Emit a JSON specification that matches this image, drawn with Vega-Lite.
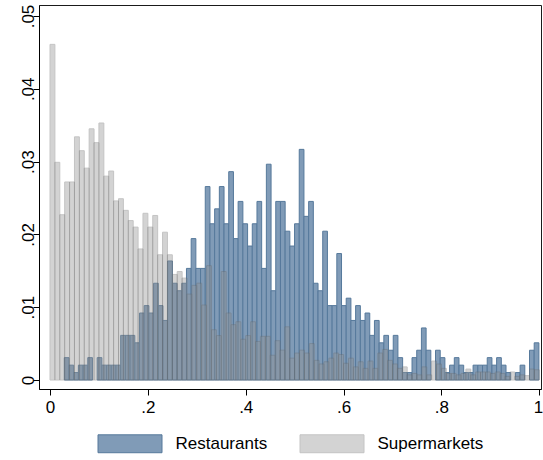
{
  "$schema": "https://vega.github.io/schema/vega-lite/v6.json",
  "width": 502,
  "height": 384,
  "autosize": {"type": "none"},
  "padding": {"left": 39, "top": 5, "right": 2, "bottom": 71},
  "background": "white",
  "config": {
    "font": "Liberation Sans",
    "view": {"stroke": "#1a1a1a", "strokeWidth": 1},
    "axis": {
      "grid": false,
      "title": null,
      "domainColor": "#000000",
      "domainWidth": 1,
      "tickColor": "#000000",
      "tickWidth": 1,
      "tickSize": 6,
      "labelColor": "#000000",
      "labelFont": "Liberation Sans",
      "labelFontSize": 17,
      "labelOverlap": false,
      "labelFlush": false
    }
  },
  "data": {
    "values": [
      {"s": "Restaurants", "lo": 0.0292, "hi": 0.0388, "f": 0.00307},
      {"s": "Restaurants", "lo": 0.0388, "hi": 0.0484, "f": 0.00204},
      {"s": "Restaurants", "lo": 0.0484, "hi": 0.0580, "f": 0.00102},
      {"s": "Restaurants", "lo": 0.0580, "hi": 0.0676, "f": 0.00204},
      {"s": "Restaurants", "lo": 0.0676, "hi": 0.0772, "f": 0.00204},
      {"s": "Restaurants", "lo": 0.0772, "hi": 0.0868, "f": 0.00307},
      {"s": "Restaurants", "lo": 0.0964, "hi": 0.1060, "f": 0.00307},
      {"s": "Restaurants", "lo": 0.1060, "hi": 0.1156, "f": 0.00204},
      {"s": "Restaurants", "lo": 0.1156, "hi": 0.1252, "f": 0.00204},
      {"s": "Restaurants", "lo": 0.1252, "hi": 0.1348, "f": 0.00204},
      {"s": "Restaurants", "lo": 0.1348, "hi": 0.1444, "f": 0.00204},
      {"s": "Restaurants", "lo": 0.1444, "hi": 0.1541, "f": 0.00613},
      {"s": "Restaurants", "lo": 0.1541, "hi": 0.1637, "f": 0.00613},
      {"s": "Restaurants", "lo": 0.1637, "hi": 0.1733, "f": 0.00613},
      {"s": "Restaurants", "lo": 0.1733, "hi": 0.1829, "f": 0.00511},
      {"s": "Restaurants", "lo": 0.1829, "hi": 0.1925, "f": 0.0092},
      {"s": "Restaurants", "lo": 0.1925, "hi": 0.2021, "f": 0.01022},
      {"s": "Restaurants", "lo": 0.2021, "hi": 0.2117, "f": 0.0092},
      {"s": "Restaurants", "lo": 0.2117, "hi": 0.2213, "f": 0.01329},
      {"s": "Restaurants", "lo": 0.2213, "hi": 0.2309, "f": 0.01022},
      {"s": "Restaurants", "lo": 0.2309, "hi": 0.2405, "f": 0.00818},
      {"s": "Restaurants", "lo": 0.2405, "hi": 0.2501, "f": 0.01635},
      {"s": "Restaurants", "lo": 0.2501, "hi": 0.2597, "f": 0.01329},
      {"s": "Restaurants", "lo": 0.2597, "hi": 0.2693, "f": 0.01226},
      {"s": "Restaurants", "lo": 0.2693, "hi": 0.2789, "f": 0.01329},
      {"s": "Restaurants", "lo": 0.2789, "hi": 0.2885, "f": 0.01533},
      {"s": "Restaurants", "lo": 0.2885, "hi": 0.2981, "f": 0.01942},
      {"s": "Restaurants", "lo": 0.2981, "hi": 0.3077, "f": 0.01533},
      {"s": "Restaurants", "lo": 0.3077, "hi": 0.3173, "f": 0.01533},
      {"s": "Restaurants", "lo": 0.3173, "hi": 0.3269, "f": 0.02657},
      {"s": "Restaurants", "lo": 0.3269, "hi": 0.3365, "f": 0.02146},
      {"s": "Restaurants", "lo": 0.3365, "hi": 0.3461, "f": 0.02351},
      {"s": "Restaurants", "lo": 0.3461, "hi": 0.3557, "f": 0.02657},
      {"s": "Restaurants", "lo": 0.3557, "hi": 0.3653, "f": 0.02146},
      {"s": "Restaurants", "lo": 0.3653, "hi": 0.3749, "f": 0.02862},
      {"s": "Restaurants", "lo": 0.3749, "hi": 0.3845, "f": 0.01942},
      {"s": "Restaurants", "lo": 0.3845, "hi": 0.3942, "f": 0.02453},
      {"s": "Restaurants", "lo": 0.3942, "hi": 0.4038, "f": 0.02146},
      {"s": "Restaurants", "lo": 0.4038, "hi": 0.4134, "f": 0.0184},
      {"s": "Restaurants", "lo": 0.4134, "hi": 0.4230, "f": 0.02146},
      {"s": "Restaurants", "lo": 0.4230, "hi": 0.4326, "f": 0.02453},
      {"s": "Restaurants", "lo": 0.4326, "hi": 0.4422, "f": 0.01533},
      {"s": "Restaurants", "lo": 0.4422, "hi": 0.4518, "f": 0.02964},
      {"s": "Restaurants", "lo": 0.4518, "hi": 0.4614, "f": 0.01226},
      {"s": "Restaurants", "lo": 0.4614, "hi": 0.4710, "f": 0.02453},
      {"s": "Restaurants", "lo": 0.4710, "hi": 0.4806, "f": 0.02453},
      {"s": "Restaurants", "lo": 0.4806, "hi": 0.4902, "f": 0.02044},
      {"s": "Restaurants", "lo": 0.4902, "hi": 0.4998, "f": 0.0184},
      {"s": "Restaurants", "lo": 0.4998, "hi": 0.5094, "f": 0.02146},
      {"s": "Restaurants", "lo": 0.5094, "hi": 0.5190, "f": 0.03168},
      {"s": "Restaurants", "lo": 0.5190, "hi": 0.5286, "f": 0.02248},
      {"s": "Restaurants", "lo": 0.5286, "hi": 0.5382, "f": 0.02453},
      {"s": "Restaurants", "lo": 0.5382, "hi": 0.5478, "f": 0.01329},
      {"s": "Restaurants", "lo": 0.5478, "hi": 0.5574, "f": 0.01226},
      {"s": "Restaurants", "lo": 0.5574, "hi": 0.5670, "f": 0.02044},
      {"s": "Restaurants", "lo": 0.5670, "hi": 0.5766, "f": 0.01022},
      {"s": "Restaurants", "lo": 0.5766, "hi": 0.5862, "f": 0.01022},
      {"s": "Restaurants", "lo": 0.5862, "hi": 0.5958, "f": 0.01737},
      {"s": "Restaurants", "lo": 0.5958, "hi": 0.6054, "f": 0.01022},
      {"s": "Restaurants", "lo": 0.6054, "hi": 0.6150, "f": 0.01124},
      {"s": "Restaurants", "lo": 0.6150, "hi": 0.6246, "f": 0.00818},
      {"s": "Restaurants", "lo": 0.6246, "hi": 0.6343, "f": 0.01022},
      {"s": "Restaurants", "lo": 0.6343, "hi": 0.6439, "f": 0.00818},
      {"s": "Restaurants", "lo": 0.6439, "hi": 0.6535, "f": 0.0092},
      {"s": "Restaurants", "lo": 0.6535, "hi": 0.6631, "f": 0.00613},
      {"s": "Restaurants", "lo": 0.6631, "hi": 0.6727, "f": 0.00818},
      {"s": "Restaurants", "lo": 0.6727, "hi": 0.6823, "f": 0.00511},
      {"s": "Restaurants", "lo": 0.6823, "hi": 0.6919, "f": 0.00613},
      {"s": "Restaurants", "lo": 0.6919, "hi": 0.7015, "f": 0.00409},
      {"s": "Restaurants", "lo": 0.7015, "hi": 0.7111, "f": 0.00613},
      {"s": "Restaurants", "lo": 0.7111, "hi": 0.7207, "f": 0.00307},
      {"s": "Restaurants", "lo": 0.7207, "hi": 0.7303, "f": 0.00102},
      {"s": "Restaurants", "lo": 0.7303, "hi": 0.7399, "f": 0.00102},
      {"s": "Restaurants", "lo": 0.7399, "hi": 0.7495, "f": 0.00307},
      {"s": "Restaurants", "lo": 0.7495, "hi": 0.7591, "f": 0.00409},
      {"s": "Restaurants", "lo": 0.7591, "hi": 0.7687, "f": 0.00715},
      {"s": "Restaurants", "lo": 0.7687, "hi": 0.7783, "f": 0.00409},
      {"s": "Restaurants", "lo": 0.7879, "hi": 0.7975, "f": 0.00409},
      {"s": "Restaurants", "lo": 0.7975, "hi": 0.8071, "f": 0.00307},
      {"s": "Restaurants", "lo": 0.8071, "hi": 0.8167, "f": 0.00102},
      {"s": "Restaurants", "lo": 0.8167, "hi": 0.8263, "f": 0.00204},
      {"s": "Restaurants", "lo": 0.8263, "hi": 0.8359, "f": 0.00307},
      {"s": "Restaurants", "lo": 0.8359, "hi": 0.8455, "f": 0.00204},
      {"s": "Restaurants", "lo": 0.8455, "hi": 0.8551, "f": 0.00102},
      {"s": "Restaurants", "lo": 0.8551, "hi": 0.8647, "f": 0.00102},
      {"s": "Restaurants", "lo": 0.8647, "hi": 0.8744, "f": 0.00204},
      {"s": "Restaurants", "lo": 0.8744, "hi": 0.8840, "f": 0.00204},
      {"s": "Restaurants", "lo": 0.8840, "hi": 0.8936, "f": 0.00204},
      {"s": "Restaurants", "lo": 0.8936, "hi": 0.9032, "f": 0.00307},
      {"s": "Restaurants", "lo": 0.9032, "hi": 0.9128, "f": 0.00204},
      {"s": "Restaurants", "lo": 0.9128, "hi": 0.9224, "f": 0.00307},
      {"s": "Restaurants", "lo": 0.9224, "hi": 0.9320, "f": 0.00204},
      {"s": "Restaurants", "lo": 0.9320, "hi": 0.9416, "f": 0.00102},
      {"s": "Restaurants", "lo": 0.9512, "hi": 0.9608, "f": 0.00102},
      {"s": "Restaurants", "lo": 0.9608, "hi": 0.9704, "f": 0.00204},
      {"s": "Restaurants", "lo": 0.9800, "hi": 0.9896, "f": 0.00409},
      {"s": "Restaurants", "lo": 0.9896, "hi": 0.9992, "f": 0.00511},

      {"s": "Supermarkets", "lo": 0.00, "hi": 0.01, "f": 0.0461},
      {"s": "Supermarkets", "lo": 0.01, "hi": 0.02, "f": 0.0299},
      {"s": "Supermarkets", "lo": 0.02, "hi": 0.03, "f": 0.0227},
      {"s": "Supermarkets", "lo": 0.03, "hi": 0.04, "f": 0.0272},
      {"s": "Supermarkets", "lo": 0.04, "hi": 0.05, "f": 0.0272},
      {"s": "Supermarkets", "lo": 0.05, "hi": 0.06, "f": 0.0334},
      {"s": "Supermarkets", "lo": 0.06, "hi": 0.07, "f": 0.0315},
      {"s": "Supermarkets", "lo": 0.07, "hi": 0.08, "f": 0.0291},
      {"s": "Supermarkets", "lo": 0.08, "hi": 0.09, "f": 0.0345},
      {"s": "Supermarkets", "lo": 0.09, "hi": 0.10, "f": 0.0326},
      {"s": "Supermarkets", "lo": 0.10, "hi": 0.11, "f": 0.0353},
      {"s": "Supermarkets", "lo": 0.11, "hi": 0.12, "f": 0.0280},
      {"s": "Supermarkets", "lo": 0.12, "hi": 0.13, "f": 0.0287},
      {"s": "Supermarkets", "lo": 0.13, "hi": 0.14, "f": 0.0246},
      {"s": "Supermarkets", "lo": 0.14, "hi": 0.15, "f": 0.0249},
      {"s": "Supermarkets", "lo": 0.15, "hi": 0.16, "f": 0.0233},
      {"s": "Supermarkets", "lo": 0.16, "hi": 0.17, "f": 0.0219},
      {"s": "Supermarkets", "lo": 0.17, "hi": 0.18, "f": 0.0210},
      {"s": "Supermarkets", "lo": 0.18, "hi": 0.19, "f": 0.0180},
      {"s": "Supermarkets", "lo": 0.19, "hi": 0.20, "f": 0.0229},
      {"s": "Supermarkets", "lo": 0.20, "hi": 0.21, "f": 0.0210},
      {"s": "Supermarkets", "lo": 0.21, "hi": 0.22, "f": 0.0226},
      {"s": "Supermarkets", "lo": 0.22, "hi": 0.23, "f": 0.0172},
      {"s": "Supermarkets", "lo": 0.23, "hi": 0.24, "f": 0.0203},
      {"s": "Supermarkets", "lo": 0.24, "hi": 0.25, "f": 0.0172},
      {"s": "Supermarkets", "lo": 0.25, "hi": 0.26, "f": 0.0145},
      {"s": "Supermarkets", "lo": 0.26, "hi": 0.27, "f": 0.0149},
      {"s": "Supermarkets", "lo": 0.27, "hi": 0.28, "f": 0.0140},
      {"s": "Supermarkets", "lo": 0.28, "hi": 0.29, "f": 0.0118},
      {"s": "Supermarkets", "lo": 0.29, "hi": 0.30, "f": 0.0130},
      {"s": "Supermarkets", "lo": 0.30, "hi": 0.31, "f": 0.0133},
      {"s": "Supermarkets", "lo": 0.31, "hi": 0.32, "f": 0.0103},
      {"s": "Supermarkets", "lo": 0.32, "hi": 0.33, "f": 0.0157},
      {"s": "Supermarkets", "lo": 0.33, "hi": 0.34, "f": 0.0069},
      {"s": "Supermarkets", "lo": 0.34, "hi": 0.35, "f": 0.0061},
      {"s": "Supermarkets", "lo": 0.35, "hi": 0.36, "f": 0.0149},
      {"s": "Supermarkets", "lo": 0.36, "hi": 0.37, "f": 0.0092},
      {"s": "Supermarkets", "lo": 0.37, "hi": 0.38, "f": 0.0076},
      {"s": "Supermarkets", "lo": 0.38, "hi": 0.39, "f": 0.0080},
      {"s": "Supermarkets", "lo": 0.39, "hi": 0.40, "f": 0.0056},
      {"s": "Supermarkets", "lo": 0.40, "hi": 0.41, "f": 0.0061},
      {"s": "Supermarkets", "lo": 0.41, "hi": 0.42, "f": 0.0080},
      {"s": "Supermarkets", "lo": 0.42, "hi": 0.43, "f": 0.0053},
      {"s": "Supermarkets", "lo": 0.43, "hi": 0.44, "f": 0.0060},
      {"s": "Supermarkets", "lo": 0.44, "hi": 0.45, "f": 0.0060},
      {"s": "Supermarkets", "lo": 0.45, "hi": 0.46, "f": 0.0034},
      {"s": "Supermarkets", "lo": 0.46, "hi": 0.47, "f": 0.0054},
      {"s": "Supermarkets", "lo": 0.47, "hi": 0.48, "f": 0.0041},
      {"s": "Supermarkets", "lo": 0.48, "hi": 0.49, "f": 0.0073},
      {"s": "Supermarkets", "lo": 0.49, "hi": 0.50, "f": 0.0030},
      {"s": "Supermarkets", "lo": 0.50, "hi": 0.51, "f": 0.0037},
      {"s": "Supermarkets", "lo": 0.51, "hi": 0.52, "f": 0.0041},
      {"s": "Supermarkets", "lo": 0.52, "hi": 0.53, "f": 0.0037},
      {"s": "Supermarkets", "lo": 0.53, "hi": 0.54, "f": 0.0050},
      {"s": "Supermarkets", "lo": 0.54, "hi": 0.55, "f": 0.0027},
      {"s": "Supermarkets", "lo": 0.55, "hi": 0.56, "f": 0.0022},
      {"s": "Supermarkets", "lo": 0.56, "hi": 0.57, "f": 0.0025},
      {"s": "Supermarkets", "lo": 0.57, "hi": 0.58, "f": 0.0030},
      {"s": "Supermarkets", "lo": 0.58, "hi": 0.59, "f": 0.0037},
      {"s": "Supermarkets", "lo": 0.59, "hi": 0.60, "f": 0.0035},
      {"s": "Supermarkets", "lo": 0.60, "hi": 0.61, "f": 0.0023},
      {"s": "Supermarkets", "lo": 0.61, "hi": 0.62, "f": 0.0030},
      {"s": "Supermarkets", "lo": 0.62, "hi": 0.63, "f": 0.0018},
      {"s": "Supermarkets", "lo": 0.63, "hi": 0.64, "f": 0.0025},
      {"s": "Supermarkets", "lo": 0.64, "hi": 0.65, "f": 0.0016},
      {"s": "Supermarkets", "lo": 0.65, "hi": 0.66, "f": 0.0026},
      {"s": "Supermarkets", "lo": 0.66, "hi": 0.67, "f": 0.0016},
      {"s": "Supermarkets", "lo": 0.67, "hi": 0.68, "f": 0.0037},
      {"s": "Supermarkets", "lo": 0.68, "hi": 0.69, "f": 0.0042},
      {"s": "Supermarkets", "lo": 0.69, "hi": 0.70, "f": 0.0027},
      {"s": "Supermarkets", "lo": 0.70, "hi": 0.71, "f": 0.0022},
      {"s": "Supermarkets", "lo": 0.71, "hi": 0.72, "f": 0.0016},
      {"s": "Supermarkets", "lo": 0.72, "hi": 0.73, "f": 0.0018},
      {"s": "Supermarkets", "lo": 0.73, "hi": 0.74, "f": 0.0007},
      {"s": "Supermarkets", "lo": 0.74, "hi": 0.75, "f": 0.0009},
      {"s": "Supermarkets", "lo": 0.75, "hi": 0.76, "f": 0.0007},
      {"s": "Supermarkets", "lo": 0.76, "hi": 0.77, "f": 0.0018},
      {"s": "Supermarkets", "lo": 0.77, "hi": 0.78, "f": 0.0007},
      {"s": "Supermarkets", "lo": 0.78, "hi": 0.79, "f": 0.0026},
      {"s": "Supermarkets", "lo": 0.79, "hi": 0.80, "f": 0.0022},
      {"s": "Supermarkets", "lo": 0.80, "hi": 0.81, "f": 0.0016},
      {"s": "Supermarkets", "lo": 0.81, "hi": 0.82, "f": 0.0009},
      {"s": "Supermarkets", "lo": 0.82, "hi": 0.83, "f": 0.0009},
      {"s": "Supermarkets", "lo": 0.83, "hi": 0.84, "f": 0.0007},
      {"s": "Supermarkets", "lo": 0.84, "hi": 0.85, "f": 0.0009},
      {"s": "Supermarkets", "lo": 0.85, "hi": 0.86, "f": 0.0015},
      {"s": "Supermarkets", "lo": 0.86, "hi": 0.87, "f": 0.0007},
      {"s": "Supermarkets", "lo": 0.87, "hi": 0.88, "f": 0.0011},
      {"s": "Supermarkets", "lo": 0.88, "hi": 0.89, "f": 0.0011},
      {"s": "Supermarkets", "lo": 0.89, "hi": 0.90, "f": 0.0011},
      {"s": "Supermarkets", "lo": 0.90, "hi": 0.91, "f": 0.0009},
      {"s": "Supermarkets", "lo": 0.91, "hi": 0.92, "f": 0.0011},
      {"s": "Supermarkets", "lo": 0.92, "hi": 0.93, "f": 0.0009},
      {"s": "Supermarkets", "lo": 0.93, "hi": 0.94, "f": 0.0005},
      {"s": "Supermarkets", "lo": 0.94, "hi": 0.95, "f": 0.0011},
      {"s": "Supermarkets", "lo": 0.95, "hi": 0.96, "f": 0.0005},
      {"s": "Supermarkets", "lo": 0.96, "hi": 0.97, "f": 0.0007},
      {"s": "Supermarkets", "lo": 0.97, "hi": 0.98, "f": 0.0006},
      {"s": "Supermarkets", "lo": 0.98, "hi": 0.99, "f": 0.0015},
      {"s": "Supermarkets", "lo": 0.99, "hi": 1.00, "f": 0.0014}
    ]
  },
  "encoding": {
    "x": {
      "field": "lo",
      "type": "quantitative",
      "scale": {"domain": [-0.0225, 1.0035], "nice": false, "zero": false},
      "axis": {
        "values": [0, 0.2, 0.4, 0.6, 0.8, 1],
        "labelExpr": "datum.value == 0 ? '0' : datum.value == 1 ? '1' : substring(format(datum.value, '.1f'), 1)",
        "labelPadding": 4,
        "labelAlign": {"condition": {"test": "datum.value == 1", "value": "right"}, "value": "center"},
        "labelOffset": {"condition": {"test": "datum.value == 1", "value": 3.5}, "value": 0}
      }
    },
    "x2": {"field": "hi"},
    "y": {
      "field": "f",
      "type": "quantitative",
      "scale": {"domain": [-0.001236, 0.05151], "nice": false, "zero": false},
      "axis": {
        "values": [0, 0.01, 0.02, 0.03, 0.04, 0.05],
        "labelExpr": "datum.value == 0 ? '0' : substring(format(datum.value, '.2f'), 1)",
        "labelAngle": 270,
        "labelAlign": "center",
        "labelBaseline": "alphabetic",
        "labelPadding": 0
      }
    },
    "y2": {"datum": 0},
    "fill": {
      "field": "s",
      "type": "nominal",
      "scale": {"domain": ["Restaurants", "Supermarkets"], "range": ["#809bb7", "#939393"]},
      "legend": {
        "title": null,
        "orient": "none",
        "direction": "horizontal",
        "legendX": 58.5,
        "legendY": 406,
        "padding": 0,
        "symbolType": "M-1,-0.28H1V0.28H-1Z",
        "symbolSize": 4096,
        "symbolStrokeWidth": 1,
        "labelFont": "Liberation Sans",
        "labelFontSize": 17,
        "labelColor": "#000000",
        "labelOffset": 13,
        "labelBaseline": "middle",
        "columnPadding": 30
      }
    },
    "stroke": {
      "field": "s",
      "type": "nominal",
      "scale": {"domain": ["Restaurants", "Supermarkets"], "range": ["#56799b", "#6e6e6e"]}
    },
    "opacity": {
      "field": "s",
      "type": "nominal",
      "scale": {"type": "ordinal", "domain": ["Restaurants", "Supermarkets"], "range": [1, 0.4]}
    }
  },
  "layer": [
    {
      "transform": [{"filter": "datum.s === 'Restaurants'"}],
      "mark": {"type": "bar", "strokeWidth": 1}
    },
    {
      "transform": [{"filter": "datum.s === 'Supermarkets'"}],
      "mark": {"type": "bar", "strokeWidth": 1}
    }
  ]
}
